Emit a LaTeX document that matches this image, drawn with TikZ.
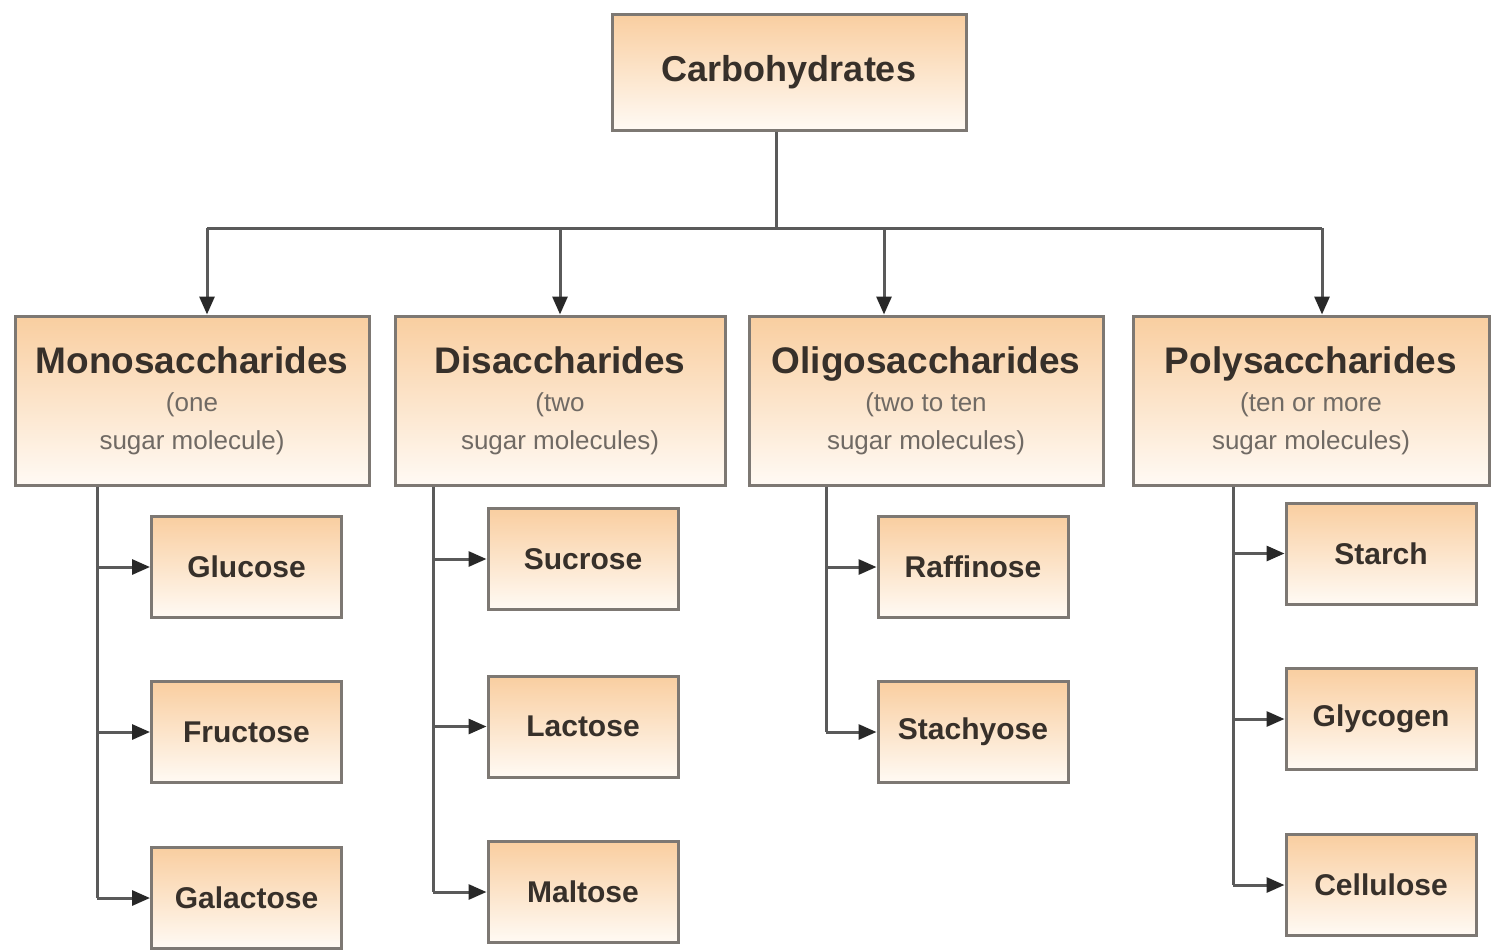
\documentclass[tikz,border=0pt]{standalone}
\usepackage{fontspec}
\setmainfont{Liberation Sans}
\usetikzlibrary{arrows.meta}

\definecolor{boxtop}{RGB}{249,206,160}
\definecolor{boxbot}{RGB}{255,250,244}
\definecolor{boxline}{RGB}{125,120,115}
\definecolor{linkline}{RGB}{90,90,90}
\definecolor{tipfill}{RGB}{40,40,40}
\definecolor{inktext}{RGB}{55,48,42}
\definecolor{subtext}{RGB}{112,106,100}

\newcommand{\grouptitle}[1]{{\fontsize{37}{44}\selectfont\bfseries #1}}
\newcommand{\groupnote}[1]{{\color{subtext}#1}}

\begin{document}
\begin{tikzpicture}[x=1pt, y=-1pt,
    box/.style={draw=boxline, line width=3pt, top color=boxtop, bottom color=boxbot,
                inner sep=0pt, text=inktext, align=center},
    rootbox/.style={box, minimum width=354pt, minimum height=116pt,
                font=\fontsize{36}{40}\selectfont\bfseries},
    groupbox/.style={box, minimum width=#1, minimum height=169pt,
                font=\fontsize{26}{38}\selectfont},
    sugarbox/.style={box, minimum width=190pt, minimum height=101pt,
                font=\fontsize{30}{36}\selectfont\bfseries},
    link/.style={draw=linkline, line width=3pt},
    linkto/.style={link, -{Triangle[length=18pt,width=15pt,fill=tipfill,color=tipfill]}}]
    \useasboundingbox[fill=white] (0,0) rectangle (1496,951);

    % root and the four groups
    \node[rootbox] (carb) at (789,72) {Carbohydrates};
    \node[groupbox=354pt] (mono) at (192,400.5) {\grouptitle{Monosaccharides}\\ \groupnote{(one}\\ \groupnote{sugar molecule)}};
    \node[groupbox=330pt] (di) at (560,400.5) {\grouptitle{Disaccharides}\\ \groupnote{(two}\\ \groupnote{sugar molecules)}};
    \node[groupbox=354pt] (oligo) at (926,400.5) {\grouptitle{Oligosaccharides}\\ \groupnote{(two to ten}\\ \groupnote{sugar molecules)}};
    \node[groupbox=356pt] (poly) at (1311,400.5) {\grouptitle{Polysaccharides}\\ \groupnote{(ten or more}\\ \groupnote{sugar molecules)}};

    % members
    \node[sugarbox] (gluc) at (246.5,567) {Glucose};
    \node[sugarbox] (fruc) at (246.5,732) {Fructose};
    \node[sugarbox] (gala) at (246.5,898) {Galactose};
    \node[sugarbox] (sucr) at (583,559) {Sucrose};
    \node[sugarbox] (lact) at (583,726.5) {Lactose};
    \node[sugarbox] (malt) at (583,892) {Maltose};
    \node[sugarbox] (raff) at (973,567) {Raffinose};
    \node[sugarbox] (stac) at (973,732) {Stachyose};
    \node[sugarbox] (star) at (1381,553.5) {Starch};
    \node[sugarbox] (glyc) at (1381,719) {Glycogen};
    \node[sugarbox] (cell) at (1381,885) {Cellulose};

    % bus from the root
    \coordinate (hub) at (776,228);
    \coordinate (busM) at (207,228);
    \coordinate (busD) at (560,228);
    \coordinate (busO) at (884,228);
    \coordinate (busP) at (1322,228);
    \draw[link] (carb.south -| hub) -- (hub);
    \draw[link] (busM) -- (busP);
    \draw[linkto] (busM) -- (busM |- mono.north);
    \draw[linkto] (busD) -- (busD |- di.north);
    \draw[linkto] (busO) -- (busO |- oligo.north);
    \draw[linkto] (busP) -- (busP |- poly.north);

    % spines
    \coordinate (spM) at (97,0);
    \coordinate (spD) at (433,0);
    \coordinate (spO) at (826,0);
    \coordinate (spP) at (1233,0);
    \draw[link] (spM |- mono.south) -- (spM |- gala.west);
    \draw[link] (spD |- di.south) -- (spD |- malt.west);
    \draw[link] (spO |- oligo.south) -- (spO |- stac.west);
    \draw[link] (spP |- poly.south) -- (spP |- cell.west);

    \draw[linkto] (spM |- gluc.west) -- (gluc.west);
    \draw[linkto] (spM |- fruc.west) -- (fruc.west);
    \draw[linkto] (spM |- gala.west) -- (gala.west);
    \draw[linkto] (spD |- sucr.west) -- (sucr.west);
    \draw[linkto] (spD |- lact.west) -- (lact.west);
    \draw[linkto] (spD |- malt.west) -- (malt.west);
    \draw[linkto] (spO |- raff.west) -- (raff.west);
    \draw[linkto] (spO |- stac.west) -- (stac.west);
    \draw[linkto] (spP |- star.west) -- (star.west);
    \draw[linkto] (spP |- glyc.west) -- (glyc.west);
    \draw[linkto] (spP |- cell.west) -- (cell.west);
\end{tikzpicture}
\end{document}
